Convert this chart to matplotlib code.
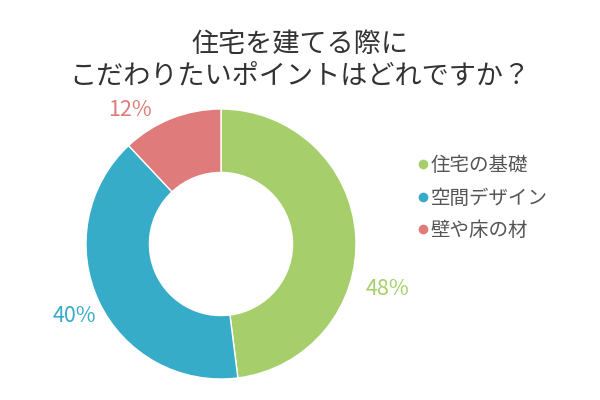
import matplotlib.pyplot as plt
from matplotlib.lines import Line2D
import numpy as np

plt.rcParams['font.family'] = ['Noto Sans CJK JP', 'DejaVu Sans']

# data
categories = ['住宅の基礎', '空間デザイン', '壁や床の材']
values = [48, 40, 12]
colors = ['#a6cf6b', '#36acc8', '#e07b7b']
title = '住宅を建てる際に\nこだわりたいポイントはどれですか？'

fig = plt.figure(figsize=(6, 4), dpi=100)
ax = fig.add_axes([0.1433, 0.0525, 0.45, 0.675])

wedges, _ = ax.pie(values, colors=colors, startangle=90, counterclock=False,
                   radius=1, wedgeprops=dict(width=0.47, edgecolor='white', linewidth=1))
ax.set_xlim(-1, 1)
ax.set_ylim(-1, 1)
ax.set_aspect('equal')
ax.axis('off')

# percent labels placed around the ring
label_angles = [-15, -154, 124]
label_dist = [1.28, 1.21, 1.2]
for v, c, a, d in zip(values, colors, label_angles, label_dist):
    r = np.deg2rad(a)
    ax.text(d * np.cos(r), d * np.sin(r), f'{v}%', color=c, fontsize=15.5,
            ha='center', va='center', clip_on=False)

fig.text(0.5, 0.85, title, ha='center', va='center', fontsize=19.5,
         color='#333333', linespacing=1.2)

handles = [Line2D([0], [0], marker='o', color='w', markerfacecolor=c,
                  markersize=8, linestyle='') for c in colors]
leg = fig.legend(handles, categories, loc='center left', bbox_to_anchor=(0.66, 0.505),
                 frameon=False, fontsize=14, handletextpad=-0.1, handlelength=1.0,
                 labelspacing=0.6)
for t in leg.get_texts():
    t.set_color('#555555')

fig.savefig('out.png', dpi=100)
